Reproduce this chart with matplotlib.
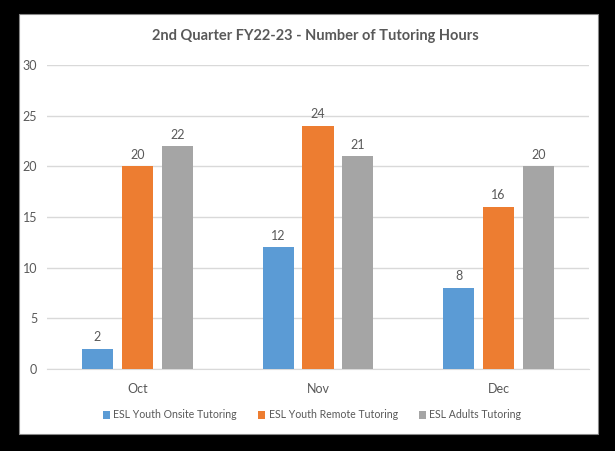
import numpy as np
import matplotlib.pyplot as plt
from matplotlib.patches import Rectangle

months = ["Oct", "Nov", "Dec"]
series = ["ESL Youth Onsite Tutoring", "ESL Youth Remote Tutoring", "ESL Adults Tutoring"]
onsite = [2, 12, 8]
remote = [20, 24, 16]
adults = [22, 21, 20]
values = [onsite, remote, adults]
colors = ["#5B9BD5", "#ED7D31", "#A5A5A5"]

plt.rcParams['font.family'] = ['Lato', 'DejaVu Sans']
txt = "#595959"

fig = plt.figure(figsize=(6.15, 4.51), dpi=100, facecolor="black")
fig.patches.append(Rectangle((19/615, 17/451), 579/615, 420/451, transform=fig.transFigure,
                             facecolor="white", edgecolor="#888888", lw=0.8, zorder=-1))

ax = fig.add_axes([47/615, 1 - 369/451, 542/615, 304/451], zorder=2)
ax.set_facecolor("none")
x = np.arange(len(months))
w = 0.172
step = 0.221
for i, (vals, c, name) in enumerate(zip(values, colors, series)):
    bars = ax.bar(x + (i - 1) * step, vals, w, color=c, label=name, zorder=3)
    for b, v in zip(bars, vals):
        ax.annotate(str(v), (b.get_x() + b.get_width() / 2, v), xytext=(0, 4),
                    textcoords="offset points", ha="center", va="bottom",
                    fontsize=9, color=txt)

ax.set_xlim(-0.5, 2.5)
ax.set_ylim(0, 30)
ax.set_yticks(range(0, 31, 5))
ax.set_xticks(x)
ax.set_xticklabels(months)
ax.grid(axis="y", color="#D9D9D9", lw=1, zorder=0)
for s in ["top", "right", "left"]:
    ax.spines[s].set_visible(False)
ax.spines["bottom"].set_color("#D9D9D9")
ax.tick_params(length=0, colors=txt, labelsize=9)
ax.tick_params(axis="y", pad=7)
ax.tick_params(axis="x", pad=10)

fig.text(0.512, 1 - 36/451, "2nd Quarter FY22-23 - Number of Tutoring Hours",
         ha="center", va="center", fontsize=10.5, fontweight="bold", color=txt)

fig.legend(loc="center", bbox_to_anchor=(312/615, 1 - 415/451), ncol=3, frameon=False,
           fontsize=7.6, handlelength=0.7, handleheight=0.7, handletextpad=0.3,
           columnspacing=2.0, labelcolor=txt)

fig.savefig("out.png", dpi=100, facecolor="black")
